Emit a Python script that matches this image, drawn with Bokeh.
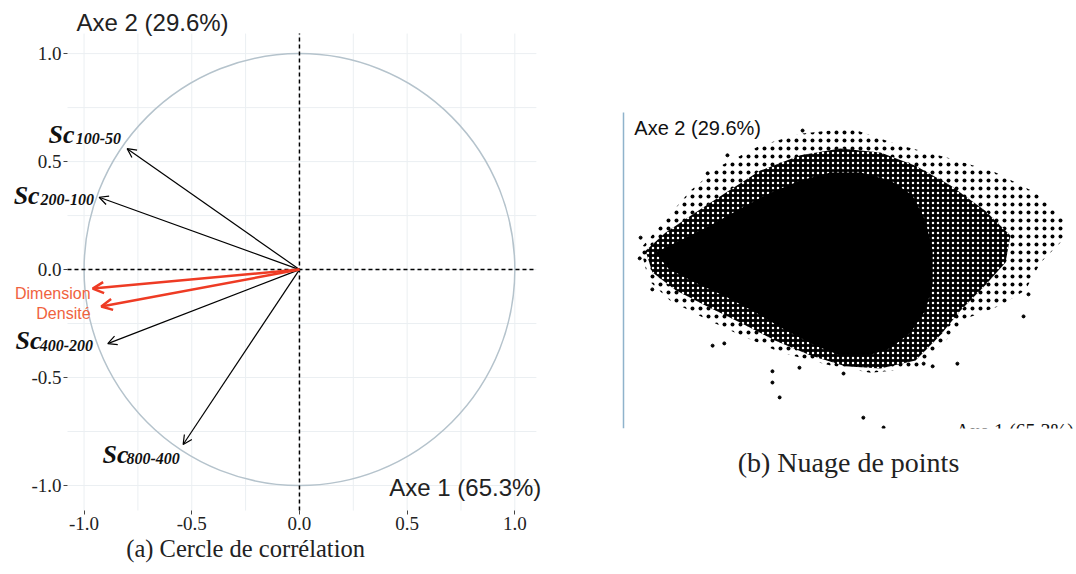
from bokeh.plotting import figure
from bokeh.models import (ColumnDataSource, Arrow, OpenHead, Label, FixedTicker, BoxAnnotation)
from bokeh.layouts import row
from bokeh.embed import file_html
from bokeh.resources import INLINE

# ---------------- data: correlation circle ----------------
var_names = ["Sc100-50", "Sc200-100", "Dimension", "Densité", "Sc400-200", "Sc800-400"]
axe1 = [-0.80, -0.93, -0.96, -0.92, -0.89, -0.54]
axe2 = [0.56, 0.335, -0.088, -0.171, -0.343, -0.81]
is_red = [False, False, True, True, False, False]
ticks_a = [-1.0, -0.5, 0.0, 0.5, 1.0]
tick_labels_a = ["-1.0", "-0.5", "0.0", "0.5", "1.0"]
grid_a = [-1.0, -0.75, -0.5, -0.25, 0.0, 0.25, 0.5, 0.75, 1.0]

# ---------------- data: cloud of points (outlines of density zones) ----------------
core_x = [-3.89, -3.33, -2.67, -2.00, -1.33, -0.67, 0.00, 0.67, 1.33, 1.82, 2.11, 2.27, 2.27,
          2.11, 1.78, 1.33, 0.78, 0.22, -0.33, -1.00, -1.67, -2.33, -3.00, -3.60]
core_y = [0.40, 0.67, 1.00, 1.38, 1.73, 2.00, 2.18, 2.18, 2.00, 1.67, 1.11, 0.44, -0.33,
          -0.89, -1.38, -1.73, -1.91, -1.89, -1.67, -1.33, -0.93, -0.58, -0.27, 0.04]
mid_x = [-4.11, -3.67, -3.00, -2.33, -1.56, -0.67, 0.22, 1.11, 1.89, 2.67, 3.44, 4.00, 3.89,
         3.44, 2.89, 2.44, 1.89, 1.11, 0.33, -0.44, -1.22, -2.00, -2.78, -3.44, -3.96]
mid_y = [0.44, 0.84, 1.29, 1.73, 2.22, 2.56, 2.71, 2.62, 2.33, 1.89, 1.33, 0.78, 0.18,
         -0.33, -0.89, -1.44, -2.00, -2.18, -2.13, -1.89, -1.56, -1.16, -0.78, -0.44, -0.04]
outer_x = [-4.22, -3.78, -3.11, -2.44, -1.56, -0.67, 0.44, 1.56, 2.67, 3.67, 4.56, 5.22, 5.16,
           4.67, 4.33, 3.78, 3.00, 2.56, 1.89, 0.89, 0.00, -1.11, -2.00, -2.78, -3.56, -4.04]
outer_y = [0.49, 1.00, 1.78, 2.33, 2.78, 3.04, 3.16, 2.78, 2.49, 2.18, 1.73, 1.11, 0.67,
           0.18, -0.44, -0.78, -1.07, -1.56, -2.18, -2.27, -2.11, -1.82, -1.44, -1.07, -0.67, -0.22]
iso_x = [-3.96, -2.62, -2.36, -1.29, -1.29, -1.13, -0.69, 0.29, 0.73, 1.18, 2.07, 2.27, 2.82,
         4.40, 4.29, -0.62, -2.29, -2.73, -4.24, -4.22]
iso_y = [-0.42, -1.67, -1.62, -2.24, -2.49, -2.82, -2.16, -2.29, -3.27, -3.49, -2.07, -2.13, -2.07,
         -0.53, -1.02, 3.11, 2.56, 2.16, 0.27, 0.73]

SERIF = "Liberation Serif"
SANS = "Liberation Sans"
RED = "#ee3b24"
GRID = "#ebeff2"

# ================= Panel (a) =================
# frame covers the whole canvas; the plotting box is [-1.077, 1.100] x [-1.116, 1.093]
AX0, AX1, AY0, AY1 = -1.077, 1.100, -1.116, 1.093
pa = figure(width=560, height=566, frame_width=560, frame_height=566,
            x_range=(-1.388, 1.212), y_range=(-1.375, 1.246),
            min_border=0, output_backend="svg", toolbar_location=None, outline_line_color=None)
pa.grid.visible = False
pa.xaxis.fixed_location = AY0
pa.yaxis.fixed_location = AX0
for ax in (pa.xaxis[0], pa.yaxis[0]):
    ax.ticker = FixedTicker(ticks=ticks_a)
    ax.major_label_overrides = {t: l for t, l in zip(ticks_a, tick_labels_a)}
    ax.axis_line_color = None
    ax.major_tick_line_color = "#444444"
    ax.major_tick_out = 4
    ax.major_tick_in = 0
    ax.minor_tick_line_color = None
    ax.major_label_text_font = SERIF
    ax.major_label_text_font_size = "19px"
    ax.major_label_text_color = "#222222"
    ax.major_label_standoff = 2

# grid lines of the plotting box
pa.segment(x0=grid_a, y0=[AY0] * len(grid_a), x1=grid_a, y1=[AY1] * len(grid_a), line_color=GRID, line_width=1)
pa.segment(x0=[AX0] * len(grid_a), y0=grid_a, x1=[AX1] * len(grid_a), y1=grid_a, line_color=GRID, line_width=1)

pa.ellipse(x=0, y=0, width=2, height=2, fill_color=None, line_color="#b5c3cc", line_width=1.5)
pa.segment(x0=[AX0, 0], y0=[0, AY0], x1=[AX1, 0], y1=[0, AY1], line_color="black",
           line_dash="4 3", line_width=1.5)

blk = [i for i in range(len(var_names)) if not is_red[i]]
red = [i for i in range(len(var_names)) if is_red[i]]
src_b = ColumnDataSource(dict(x0=[0] * len(blk), y0=[0] * len(blk),
                              x1=[axe1[i] for i in blk], y1=[axe2[i] for i in blk]))
src_r = ColumnDataSource(dict(x0=[0] * len(red), y0=[0] * len(red),
                              x1=[axe1[i] for i in red], y1=[axe2[i] for i in red]))
pa.add_layout(Arrow(end=OpenHead(size=9, line_color="black", line_width=1.2),
                    x_start="x0", y_start="y0", x_end="x1", y_end="y1", source=src_b,
                    line_color="black", line_width=1.2))
pa.add_layout(Arrow(end=OpenHead(size=11, line_color=RED, line_width=2.5),
                    x_start="x0", y_start="y0", x_end="x1", y_end="y1", source=src_r,
                    line_color=RED, line_width=2.5))

# label anchors (layout)
sc_pos = {"Sc100-50": ((-1.165, 0.625), (-1.039, 0.606)),
          "Sc200-100": ((-1.327, 0.343), (-1.202, 0.324)),
          "Sc400-200": ((-1.318, -0.329), (-1.206, -0.352)),
          "Sc800-400": ((-0.914, -0.857), (-0.803, -0.875))}
red_pos = {"Dimension": (-0.97, -0.111), "Densité": (-0.97, -0.204)}
for name in var_names:
    if name in sc_pos:
        (sx, sy), (bx, by) = sc_pos[name]
        pa.add_layout(Label(x=sx, y=sy, text=name[:2], text_font=SERIF, text_font_style="bold italic",
                            text_font_size="26px", text_color="#111111", text_baseline="alphabetic"))
        pa.add_layout(Label(x=bx, y=by, text=name[2:], text_font=SERIF, text_font_style="bold italic",
                            text_font_size="16px", text_color="#111111", text_baseline="alphabetic"))
    else:
        rx, ry = red_pos[name]
        pa.add_layout(Label(x=rx, y=ry, text=name, text_font=SANS, text_font_size="16px",
                            text_color="#f0623e", text_align="right", text_baseline="middle"))

pa.add_layout(Label(x=-0.682, y=1.144, text="Axe 2 (29.6%)", text_font=SANS, text_font_size="24px",
                    text_color="#222222", text_align="center", text_baseline="middle"))
pa.add_layout(Label(x=0.770, y=-1.009, text="Axe 1 (65.3%)", text_font=SANS, text_font_size="24px",
                    text_color="#222222", text_align="center", text_baseline="middle"))
pa.add_layout(Label(x=-0.25, y=-1.292, text="(a) Cercle de corrélation", text_font=SERIF,
                    text_font_size="24.5px", text_color="#222222", text_align="center", text_baseline="middle"))

# ================= Panel (b) =================
BX0, BY0, BY1 = -4.6, -3.511, 3.511
pb = figure(width=516, height=566, frame_width=516, frame_height=566,
            x_range=(-6.0, 5.467), y_range=(-6.578, 6.0),
            min_border=0, output_backend="svg", toolbar_location=None, outline_line_color=None)
pb.xaxis.visible = False
pb.grid.visible = False
pb.yaxis.fixed_location = BX0
pb.yaxis.bounds = (BY0, BY1)
pb.yaxis.ticker = FixedTicker(ticks=[])
pb.yaxis.axis_line_color = "#8fb3cc"
pb.yaxis.axis_line_width = 1.5
pb.yaxis.major_tick_line_color = None
pb.yaxis.minor_tick_line_color = None

pb.patch(outer_x, outer_y, fill_color="white", line_color=None,
         hatch_pattern="dot", hatch_color="black", hatch_scale=8, hatch_weight=1)
pb.patch(mid_x, mid_y, fill_color="black", line_color=None,
         hatch_pattern="dot", hatch_color="white", hatch_scale=5, hatch_weight=1.2)
pb.patch(core_x, core_y, fill_color="black", line_color=None)
pb.scatter(iso_x, iso_y, size=3, color="black")

pb.add_layout(Label(x=-4.36, y=3.16, text="Axe 2 (29.6%)", text_font=SANS, text_font_size="20px",
                    text_color="#111111", text_baseline="middle"))
pb.text(x=[2.78], y=[-3.33], text=["Axe 1 (65.3%)"], text_font_size="20px", text_color="#111111",
        text_baseline="top", text_font=SANS)
# the cloud panel is cropped at its bottom edge
pb.add_layout(BoxAnnotation(top=BY0, fill_color="white", fill_alpha=1.0, line_color=None))
pb.add_layout(Label(x=0.4, y=-4.27, text="(b) Nuage de points", text_font=SERIF,
                    text_font_size="28px", text_color="#222222", text_align="center", text_baseline="middle"))

layout = row(pa, pb)
open("out.html", "w").write(file_html(layout, INLINE))
